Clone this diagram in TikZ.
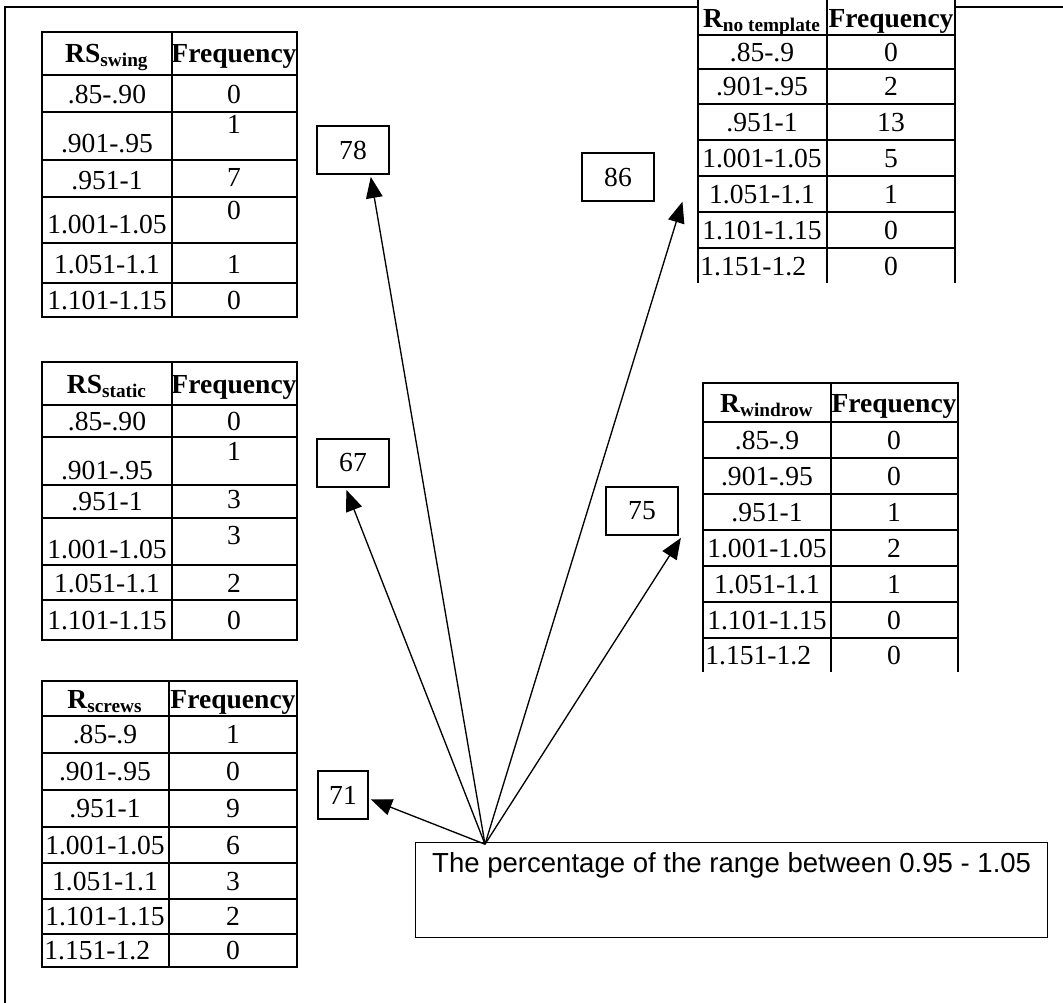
\documentclass[tikz,border=0pt]{standalone}
\usepackage{fontspec}
\setmainfont{Liberation Serif}
\newfontfamily\notefont{Liberation Sans}
\usetikzlibrary{arrows.meta}

\tikzset{
  cell/.style={inner sep=0pt, text height=8.2pt, text depth=0pt, font=\fontsize{12.4}{14}\selectfont},
  head/.style={cell, font=\fontsize{12.4}{14}\selectfont\bfseries},
  grid/.style={line width=0.9pt},
  numbox/.style={draw, line width=0.6pt, inner sep=0pt, minimum width=32.4pt, minimum height=21.6pt, font=\fontsize{12.4}{14}\selectfont},
  pointer/.style={line width=0.6pt, -{Triangle[length=9.5pt,width=7.5pt]}},
}

\begin{document}
\begin{tikzpicture}[x=0.45pt, y=-0.45pt]
  \useasboundingbox (0,0) rectangle (1063,1003);
  % the frame round everything (only top and left show)
  \draw[line width=0.8pt] (5,1010) -- (5,7) -- (1070,7);

  % table RS swing
  \draw[grid] (42,32) rectangle (297,317);
  \draw[grid] (172,32) -- (172,317);
  \foreach \y in {75,112,160,197,243,283}
    \draw[grid] (42,\y) -- (297,\y);
  \node[head] (swh1) at (107,53) {RS\textsubscript{swing}};
  \node[head] (swh2) at (234,53) {Frequency};
  \foreach \a/\ya/\b/\yb [count=\i] in {.85-.90/94/0/94, .901-.95/143/1/124, .951-1/180/7/177,
      1.001-1.05/224/0/210, 1.051-1.1/264/1/264, 1.101-1.15/300/0/300}
  {
    \node[cell] (swa\i) at (107,\ya) {\a};
    \node[cell] (swb\i) at (234,\yb) {\b};
  }

  % table RS static
  \draw[grid] (42,362) rectangle (297,640);
  \draw[grid] (172,362) -- (172,640);
  \foreach \y in {405,437,485,518,565,600}
    \draw[grid] (42,\y) -- (297,\y);
  \node[head] (sth1) at (107,384) {RS\textsubscript{static}};
  \node[head] (sth2) at (234,384) {Frequency};
  \foreach \a/\ya/\b/\yb [count=\i] in {.85-.90/421/0/421, .901-.95/470/1/451, .951-1/501/3/499,
      1.001-1.05/549/3/535, 1.051-1.1/583/2/583, 1.101-1.15/620/0/620}
  {
    \node[cell] (sta\i) at (107,\ya) {\a};
    \node[cell] (stb\i) at (234,\yb) {\b};
  }

  % table R screws
  \draw[grid] (42,681) rectangle (297,967);
  \draw[grid] (169,681) -- (169,967);
  \foreach \y in {716,753,790,827,863,899,934}
    \draw[grid] (42,\y) -- (297,\y);
  \node[head] (sch1) at (105,699) {R\textsubscript{screws}};
  \node[head] (sch2) at (233,699) {Frequency};
  \foreach \a/\y/\b [count=\i] in {.85-.9/734/1, .901-.95/771/0, .951-1/808/9,
      1.001-1.05/845/6, 1.051-1.1/881/3, 1.101-1.15/916/2}
  {
    \node[cell] (sca\i) at (105,\y) {\a};
    \node[cell] (scb\i) at (233,\y) {\b};
  }
  \node[cell, anchor=west] (sca7) at (44,950) {1.151-1.2};
  \node[cell] (scb7) at (233,950) {0};

  % table R no template (runs off the top)
  \fill[white] (698,-10) rectangle (955,283);
  \foreach \x in {698,827,955}
    \draw[grid] (\x,-10) -- (\x,283);
  \foreach \y in {35,69,104,140,176,212,248}
    \draw[grid] (698,\y) -- (955,\y);
  \node[head] (nth1) at (762,18) {R\textsubscript{no template}};
  \node[head] (nth2) at (891,18) {Frequency};
  \foreach \a/\y/\b [count=\i] in {.85-.9/52/0, .901-.95/86/2, .951-1/122/13,
      1.001-1.05/158/5, 1.051-1.1/194/1, 1.101-1.15/230/0}
  {
    \node[cell] (nta\i) at (762,\y) {\a};
    \node[cell] (ntb\i) at (891,\y) {\b};
  }
  \node[cell, anchor=west] (nta7) at (700,266) {1.151-1.2};
  \node[cell] (ntb7) at (891,266) {0};

  % table R windrow
  \draw[grid] (703,672) -- (703,383) -- (958,383) -- (958,672);
  \draw[grid] (831,383) -- (831,672);
  \foreach \y in {422,458,494,530,566,602,638}
    \draw[grid] (703,\y) -- (958,\y);
  \node[head] (wih1) at (767,403) {R\textsubscript{windrow}};
  \node[head] (wih2) at (894,403) {Frequency};
  \foreach \a/\y/\b [count=\i] in {.85-.9/440/0, .901-.95/476/0, .951-1/512/1,
      1.001-1.05/548/2, 1.051-1.1/584/1, 1.101-1.15/620/0}
  {
    \node[cell] (wia\i) at (767,\y) {\a};
    \node[cell] (wib\i) at (894,\y) {\b};
  }
  \node[cell, anchor=west] (wia7) at (705,655) {1.151-1.2};
  \node[cell] (wib7) at (894,655) {0};

  % the percentages
  \node[numbox] (b78) at (353,150) {78};
  \node[numbox] (b86) at (618,177) {86};
  \node[numbox] (b67) at (353,463) {67};
  \node[numbox] (b75) at (642,511) {75};
  \node[numbox, minimum width=22.5pt] (b71) at (343,795) {71};

  % the note box at the bottom
  \node[draw, line width=0.6pt, inner sep=0pt, minimum width=284.4pt, minimum height=42.75pt,
        anchor=north west] (note) at (415,842) {};
  \node[inner sep=0pt, anchor=north, text height=8.9pt, font=\notefont\fontsize{12.4}{14}\selectfont]
        (notetext) at ([yshift=-4.6pt]note.north) {The percentage of the range between 0.95 - 1.05};
  \coordinate (src) at ([xshift=31.5pt,yshift=-1pt]note.north west);

  % draw the arrows
  \draw[pointer] (src) -- ([xshift=8pt,yshift=-1pt]b78.south);
  \draw[pointer] (src) -- ([xshift=12.5pt]b86.south east);
  \draw[pointer] (src) -- ([xshift=-3pt,yshift=-1pt]b67.south);
  \draw[pointer] (src) -- ([xshift=1pt,yshift=-1pt]b75.south east);
  \draw[pointer] (src) -- ([xshift=1pt,yshift=-2pt]b71.east);
\end{tikzpicture}
\end{document}
